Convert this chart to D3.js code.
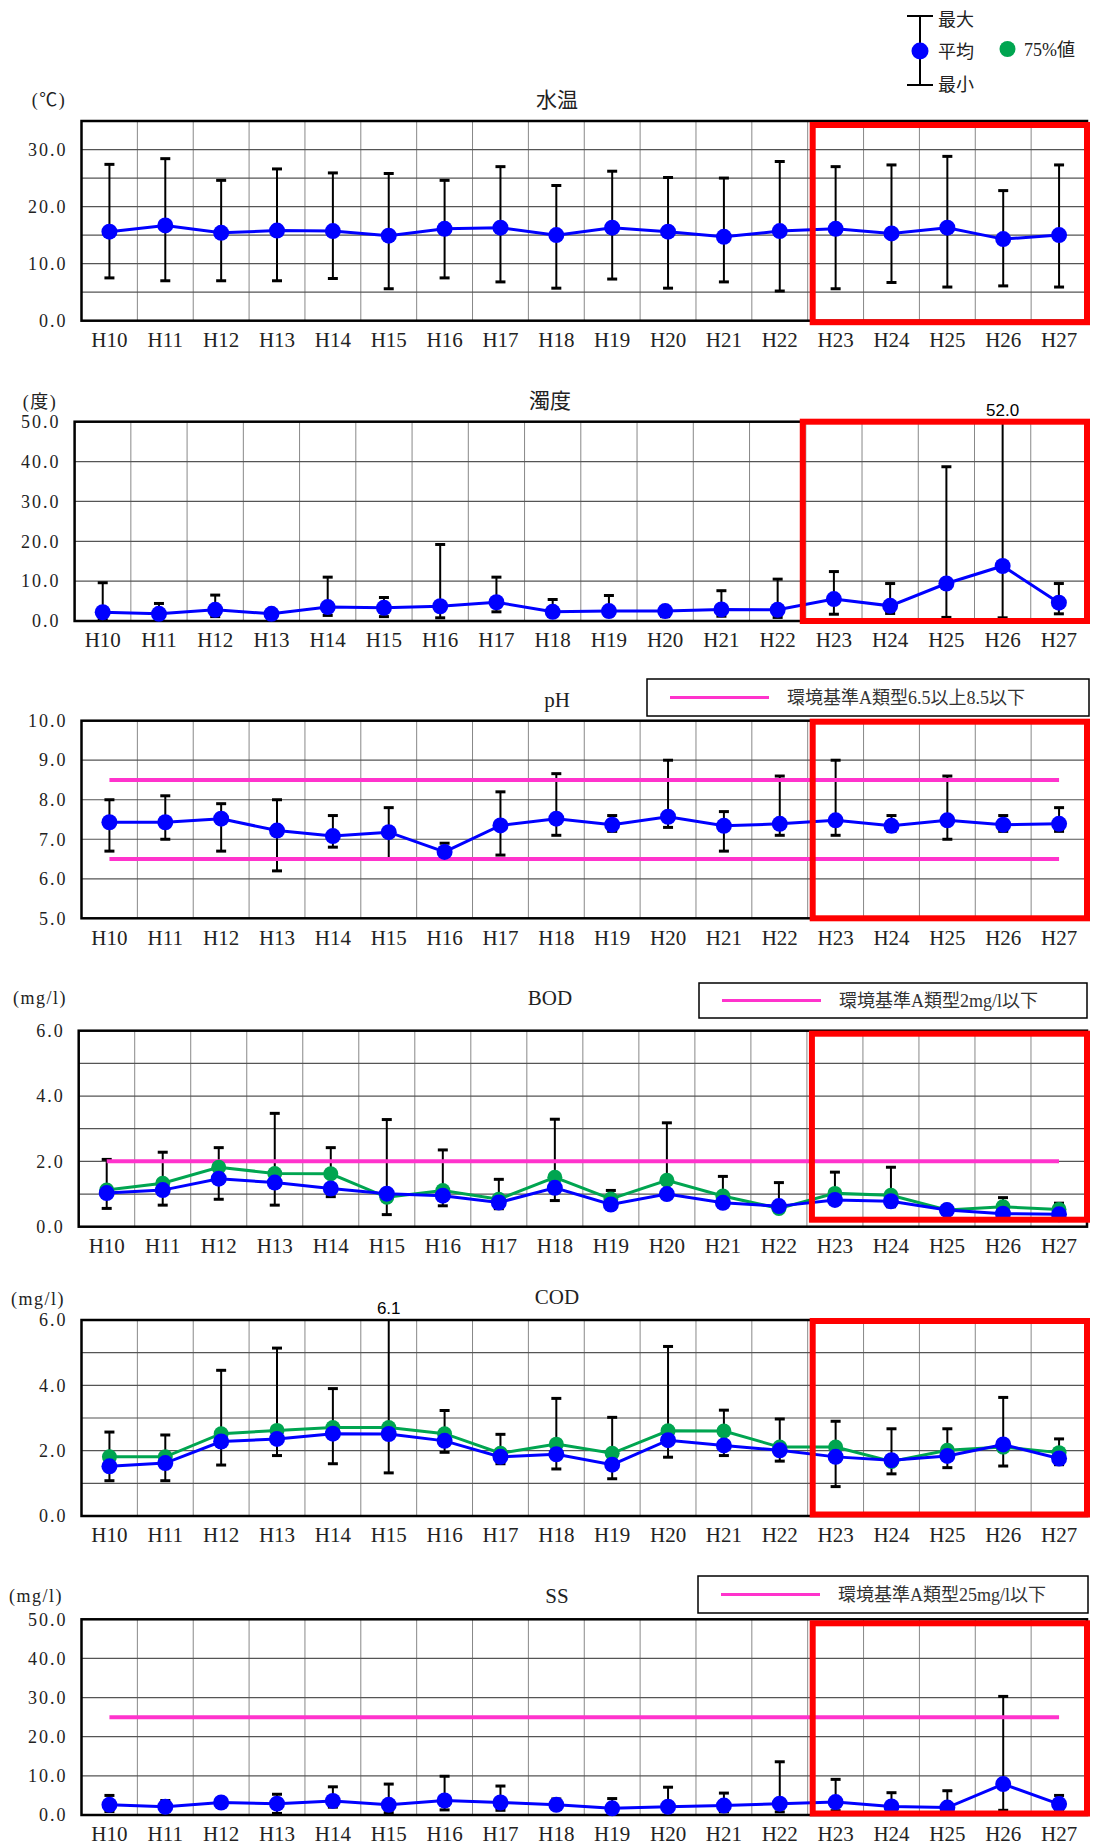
<!DOCTYPE html>
<html><head><meta charset="utf-8">
<script src="https://cdn.jsdelivr.net/npm/d3@7"></script>
<style>
body{margin:0;background:#fff;}
svg{display:block;}
text{font-family:"Liberation Serif","Noto Sans CJK JP",serif;fill:#222;}
</style></head><body>
<svg id="chart" width="1093" height="1845"></svg>
<script>
const categories = ["H10","H11","H12","H13","H14","H15","H16","H17","H18","H19","H20","H21","H22","H23","H24","H25","H26","H27"];

// 水温 (℃)
const tempMax  = [27.4,28.4,24.6,26.6,25.9,25.8,24.6,27.0,23.7,26.2,25.1,25.0,27.9,27.0,27.3,28.8,22.8,27.3];
const tempMean = [15.6,16.7,15.4,15.8,15.7,14.9,16.1,16.3,15.0,16.3,15.6,14.7,15.7,16.1,15.3,16.3,14.3,15.0];
const tempMin  = [7.5,7.0,7.0,7.0,7.4,5.6,7.5,6.8,5.7,7.3,5.7,6.8,5.2,5.6,6.7,5.9,6.1,5.9];

// 濁度 (度)
const turbMax  = [9.6,4.4,6.5,2.3,11.0,5.9,19.2,11.0,5.4,6.4,3.6,7.6,10.5,12.4,9.4,38.7,52.0,9.4];
const turbMean = [2.2,1.8,2.8,1.8,3.5,3.3,3.7,4.7,2.3,2.5,2.5,2.9,2.8,5.5,3.8,9.4,13.8,4.6];
const turbMin  = [0.3,0.7,1.1,1.2,1.4,1.1,0.8,2.3,1.1,1.3,1.1,1.2,0.9,1.7,1.9,0.9,0.8,1.8];

// pH
const phMax  = [8.0,8.1,7.9,8.0,7.6,7.8,6.9,8.2,8.66,7.6,9.0,7.7,8.6,9.0,7.6,8.6,7.6,7.8];
const phMean = [7.43,7.43,7.52,7.22,7.08,7.18,6.68,7.35,7.52,7.37,7.57,7.34,7.39,7.48,7.34,7.48,7.37,7.39];
const phMin  = [6.7,7.0,6.7,6.2,6.8,6.5,6.6,6.6,7.1,7.2,7.3,6.7,7.1,7.1,7.2,7.0,7.2,7.2];
const phStd  = [6.5,8.5];

// BOD (mg/l)
const bodMax  = [2.06,2.28,2.42,3.47,2.42,3.28,2.35,1.45,3.29,1.11,3.18,1.54,1.35,1.67,1.82,0.58,0.89,0.72];
const bodMean = [1.03,1.12,1.47,1.35,1.17,1.01,0.95,0.74,1.19,0.68,1.00,0.73,0.63,0.82,0.78,0.51,0.40,0.38];
const bod75   = [1.12,1.33,1.82,1.63,1.62,0.90,1.11,0.84,1.51,0.85,1.42,0.94,0.56,1.02,0.96,0.51,0.61,0.53];
const bodMin  = [0.56,0.66,0.84,0.66,0.92,0.37,0.64,0.55,0.80,0.62,0.95,0.68,0.58,0.75,0.61,0.45,0.33,0.32];
const bodStd  = [2.0];

// COD (mg/l)
const codMax  = [2.57,2.48,4.46,5.14,3.90,6.1,3.23,2.50,3.60,3.02,5.19,3.24,2.97,2.90,2.67,2.67,3.63,2.36];
const codMean = [1.52,1.62,2.28,2.36,2.52,2.51,2.30,1.81,1.89,1.57,2.32,2.16,2.01,1.81,1.71,1.84,2.19,1.76];
const cod75   = [1.81,1.81,2.52,2.62,2.71,2.71,2.52,1.92,2.20,1.92,2.61,2.60,2.11,2.11,1.67,2.01,2.11,1.94];
const codMin  = [1.08,1.08,1.56,1.85,1.60,1.32,1.95,1.60,1.44,1.14,1.80,1.85,1.68,0.90,1.29,1.48,1.53,1.57];

// SS (mg/l)
const ssMax  = [5.0,3.7,3.8,5.3,7.2,7.9,9.9,7.4,4.1,4.2,7.1,5.6,13.6,9.1,5.7,6.2,30.3,5.0];
const ssMean = [2.6,2.1,3.2,2.9,3.6,2.6,3.7,3.2,2.6,1.7,2.1,2.4,2.9,3.3,2.2,1.9,7.9,2.8];
const ssMin  = [0.9,1.0,2.2,0.4,2.0,0.6,1.3,1.2,1.5,0.5,1.0,0.8,0.8,1.1,1.0,0.8,1.2,1.0];
const ssStd  = [25];

const yLabelsTemp = [0,10,20,30];
const yLabelsTurb = [0,10,20,30,40,50];
const yLabelsPh   = [5,6,7,8,9,10];
const yLabelsMg   = [0,2,4,6];
const yLabelsSS   = [0,10,20,30,40,50];

const legendTexts = ["最大","平均","最小","75%値"];

const charts = [
  {title:"水温", unit:"(℃)", max:tempMax, mean:tempMean, min:tempMin, p75:null, std:null,
   domain:[0,35], step:5, labels:yLabelsTemp, L:81.5, R:1087, T:121, B:320.7,
   tx:557, ty:100, ux:49, uy:100, rb:{dl:5, dt:4, db:1.5}},
  {title:"濁度", unit:"(度)", max:turbMax, mean:turbMean, min:turbMin, p75:null, std:null,
   domain:[0,50], step:10, labels:yLabelsTurb, L:74.6, R:1087, T:421.7, B:621,
   tx:550, ty:401, ux:40, uy:402, rb:{dl:-3, dt:0, db:0}},
  {title:"pH", unit:null, max:phMax, mean:phMean, min:phMin, p75:null, std:phStd,
   stdText:"環境基準A類型6.5以上8.5以下", lg:{x:647,y:679,w:442,h:37},
   domain:[5,10], step:1, labels:yLabelsPh, L:81.5, R:1087, T:720.7, B:918.3,
   tx:557, ty:700, rb:{dl:5, dt:1, db:0}},
  {title:"BOD", unit:"(mg/l)", max:bodMax, mean:bodMean, min:bodMin, p75:bod75, std:bodStd,
   stdText:"環境基準A類型2mg/l以下", lg:{x:699,y:983,w:388,h:35},
   domain:[0,6], step:1, labels:yLabelsMg, L:78.7, R:1087, T:1030.7, B:1226.7,
   tx:550, ty:998, ux:40, uy:998, rb:{dl:5, dt:3, db:-7}},
  {title:"COD", unit:"(mg/l)", max:codMax, mean:codMean, min:codMin, p75:cod75, std:null,
   domain:[0,6], step:1, labels:yLabelsMg, L:81.5, R:1087, T:1320, B:1516,
   tx:557, ty:1297, ux:38, uy:1299, rb:{dl:5, dt:1, db:-1.5}},
  {title:"SS", unit:"(mg/l)", max:ssMax, mean:ssMean, min:ssMin, p75:null, std:ssStd,
   stdText:"環境基準A類型25mg/l以下", lg:{x:698,y:1576,w:390,h:37},
   domain:[0,50], step:10, labels:yLabelsSS, L:81.5, R:1087, T:1619.3, B:1815,
   tx:557, ty:1596, ux:36, uy:1596, rb:{dl:5, dt:4, db:-1.5}}
];

const svg = d3.select("#chart");
const BLUE = "#0000ff", GREEN = "#00a550", PINK = "#ff33cc", RED = "#ff0000";

// top legend
const lgd = svg.append("g");
lgd.append("line").attr("x1",920).attr("x2",920).attr("y1",16).attr("y2",85).attr("stroke","#000").attr("stroke-width",2);
lgd.append("line").attr("x1",907).attr("x2",933).attr("y1",16).attr("y2",16).attr("stroke","#000").attr("stroke-width",2);
lgd.append("line").attr("x1",907).attr("x2",933).attr("y1",85).attr("y2",85).attr("stroke","#000").attr("stroke-width",2);
lgd.append("circle").attr("cx",920).attr("cy",51).attr("r",8.5).attr("fill",BLUE);
lgd.append("circle").attr("cx",1007.5).attr("cy",49).attr("r",8).attr("fill",GREEN);
[[938,20,0],[938,52,1],[938,85,2],[1024,50,3]].forEach(([x,y,i])=>{
  lgd.append("text").attr("x",x).attr("y",y).attr("dy","0.35em").attr("font-size",18).text(legendTexts[i]);
});

function drawChart(c){
  const g = svg.append("g");
  const x = d3.scaleBand().domain(categories).range([c.L, c.R]);
  const y = d3.scaleLinear().domain(c.domain).range([c.B, c.T]).clamp(true);
  const cx = d => x(d) + x.bandwidth()/2;
  const nSteps = Math.round((c.domain[1]-c.domain[0])/c.step);
  const gridVals = d3.range(1, nSteps).map(i => c.domain[0] + i*c.step);

  // vertical grid
  g.selectAll(".vg").data(categories.slice(1)).join("line")
    .attr("x1", d=>x(d)).attr("x2", d=>x(d)).attr("y1", c.T).attr("y2", c.B)
    .attr("stroke","#888").attr("stroke-width",1);
  // horizontal grid
  g.selectAll(".hg").data(gridVals).join("line")
    .attr("x1", c.L).attr("x2", c.R).attr("y1", d=>y(d)).attr("y2", d=>y(d))
    .attr("stroke","#555").attr("stroke-width",1.2);
  // frame
  g.append("rect").attr("x",c.L).attr("y",c.T).attr("width",c.R-c.L).attr("height",c.B-c.T)
    .attr("fill","none").attr("stroke","#000").attr("stroke-width",2.5);

  // y axis
  const ya = g.append("g").attr("transform",`translate(${c.L},0)`)
    .call(d3.axisLeft(y).tickValues(c.labels).tickFormat(d3.format(".1f")).tickSize(0).tickPadding(14));
  ya.select(".domain").remove();
  ya.selectAll("text").attr("font-size",18).attr("letter-spacing","2px");

  // x axis
  const xa = g.append("g").attr("transform",`translate(0,${c.B})`)
    .call(d3.axisBottom(x).tickSize(0));
  xa.select(".domain").remove();
  xa.selectAll("text").attr("font-size",21).attr("y",19).attr("dy","0.35em");

  // title & unit
  g.append("text").attr("x",c.tx).attr("y",c.ty).attr("dy","0.35em").attr("text-anchor","middle").attr("font-size",21).text(c.title);
  if (c.unit) g.append("text").attr("x",c.ux).attr("y",c.uy).attr("dy","0.35em").attr("text-anchor","middle")
    .attr("font-size",18).attr("letter-spacing","1.5px").text(c.unit);

  // error bars
  const eb = g.append("g").attr("stroke","#000");
  eb.selectAll(".stem").data(categories).join("line")
    .attr("x1", d=>cx(d)).attr("x2", d=>cx(d))
    .attr("y1", (d,i)=>y(c.max[i])).attr("y2", (d,i)=>y(c.min[i])).attr("stroke-width",2);
  eb.selectAll(".capT").data(categories.filter((d,i)=>c.max[i] <= c.domain[1])).join("line")
    .attr("x1", d=>cx(d)-5).attr("x2", d=>cx(d)+5)
    .attr("y1", d=>y(c.max[categories.indexOf(d)])).attr("y2", d=>y(c.max[categories.indexOf(d)])).attr("stroke-width",3);
  eb.selectAll(".capB").data(categories).join("line")
    .attr("x1", d=>cx(d)-5).attr("x2", d=>cx(d)+5)
    .attr("y1", (d,i)=>y(c.min[i])).attr("y2", (d,i)=>y(c.min[i])).attr("stroke-width",3);
  // overflow labels
  g.selectAll(".ovf").data(categories.filter((d,i)=>c.max[i] > c.domain[1])).join("text")
    .attr("x", d=>cx(d)).attr("y", c.T-6).attr("text-anchor","middle")
    .attr("font-size",17).style("font-family","'Liberation Sans',Arial,sans-serif").style("fill","#000")
    .text(d=>d3.format(".1f")(c.max[categories.indexOf(d)]));

  // standard lines
  if (c.std){
    g.selectAll(".std").data(c.std).join("line")
      .attr("x1", cx(categories[0])).attr("x2", cx(categories[categories.length-1]))
      .attr("y1", d=>y(d)).attr("y2", d=>y(d)).attr("stroke",PINK).attr("stroke-width",4);
    const lg = c.lg;
    g.append("rect").attr("x",lg.x).attr("y",lg.y).attr("width",lg.w).attr("height",lg.h)
      .attr("fill","#fff").attr("stroke","#000").attr("stroke-width",1.5);
    g.append("line").attr("x1",lg.x+23).attr("x2",lg.x+122).attr("y1",lg.y+lg.h/2).attr("y2",lg.y+lg.h/2)
      .attr("stroke",PINK).attr("stroke-width",3);
    g.append("text").attr("x",lg.x+140).attr("y",lg.y+lg.h/2).attr("dy","0.35em").attr("font-size",18)
      .style("fill","#333").text(c.stdText);
  }

  const line = d3.line().x((d,i)=>cx(categories[i])).y(d=>y(d));
  // 75% series
  if (c.p75){
    g.append("path").datum(c.p75).attr("d",line).attr("fill","none").attr("stroke",GREEN).attr("stroke-width",3);
    g.selectAll(".p75").data(c.p75).join("circle")
      .attr("cx",(d,i)=>cx(categories[i])).attr("cy",d=>y(d)).attr("r",7.5).attr("fill",GREEN);
  }
  // mean series
  g.append("path").datum(c.mean).attr("d",line).attr("fill","none").attr("stroke",BLUE).attr("stroke-width",3);
  g.selectAll(".mean").data(c.mean).join("circle")
    .attr("cx",(d,i)=>cx(categories[i])).attr("cy",d=>y(d)).attr("r",8).attr("fill",BLUE);

  // red highlight box (H23-H27)
  const rx = x("H23") + c.rb.dl;
  g.append("rect").attr("x",rx).attr("y",c.T + c.rb.dt)
    .attr("width", c.R - rx).attr("height", (c.B + c.rb.db) - (c.T + c.rb.dt))
    .attr("fill","none").attr("stroke",RED).attr("stroke-width",6);
}

charts.forEach(drawChart);
</script>
</body></html>
